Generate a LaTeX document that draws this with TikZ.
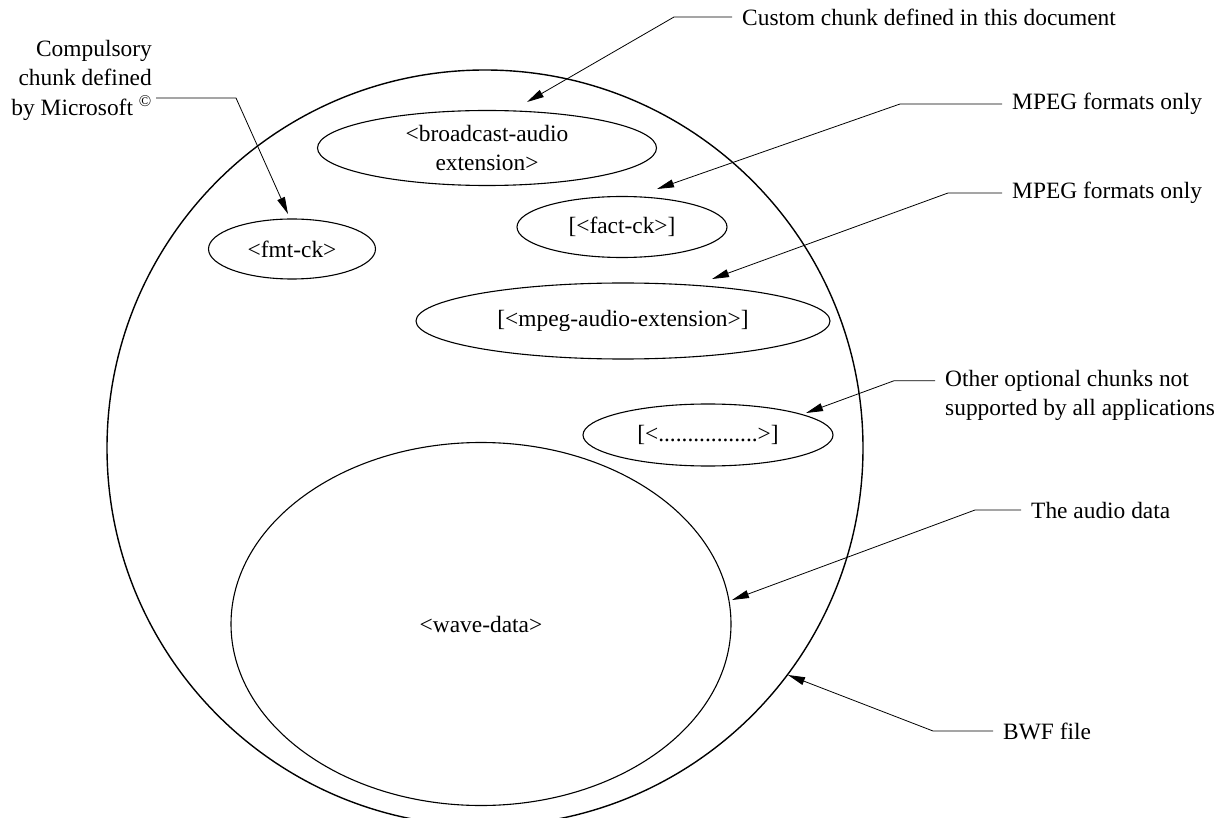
\documentclass[tikz,border=0pt]{standalone}
\usepackage{fontspec}
\setmainfont{Liberation Serif}
\usetikzlibrary{shapes.geometric,arrows.meta,calc}
\begin{document}
\begin{tikzpicture}[x=1pt,y=-1pt,
  every node/.style={font=\fontsize{23.4}{29.5}\selectfont},
  chunk/.style={draw, ellipse, line width=1.1pt, inner sep=0pt, align=center},
  lbl/.style={inner xsep=10pt, inner ysep=0pt, anchor=west, align=left},
  lead/.style={line width=0.8pt, -{Triangle[length=17pt,width=8pt]}}]
\useasboundingbox (0,0) rectangle (1229,818);
\clip (0,0) rectangle (1229,818);
% file and chunks
\node[draw, circle, line width=1.4pt, minimum size=756pt, inner sep=0pt] (bwf) at (485,448) {};
\node[chunk, minimum width=339pt, minimum height=75pt] (bext) at (487,148) {<broadcast-audio\\extension>};
\node[chunk, minimum width=167pt, minimum height=60pt] (fmt) at (292,249) {<fmt-ck>};
\node[chunk, minimum width=210pt, minimum height=61pt] (fact) at (622,227) {[<fact-ck>]};
\node[chunk, minimum width=414pt, minimum height=76pt] (mpeg) at (623,321) {[<mpeg-audio-extension>]};
\node[chunk, minimum width=250pt, minimum height=62pt] (other) at (708,435) {[<.................>]};
\node[chunk, minimum width=500pt, minimum height=363pt] (wave) at (481,624) {<wave-data>};
% arrow targets
\coordinate (tFmt) at (288,214);
\coordinate (tBext) at (527,102);
\coordinate (tFact) at (657,189);
\coordinate (tMpeg) at (712,279);
\coordinate (tOther) at (806,413);
\coordinate (tWave) at (732,600);
\coordinate (tBwf) at (788,675);
% labels
\node[lbl, anchor=east, align=right, inner xsep=4pt] (lMs) at (156,80) {Compulsory\\chunk defined\\by Microsoft \textsuperscript{©}};
\node[lbl] (lCustom) at (732,17) {Custom chunk defined in this document};
\node[lbl] (lMpeg1) at (1002,104) {MPEG formats only};
\node[lbl] (lMpeg2) at (1002,193) {MPEG formats only};
\node[lbl] (lOther) at (935,395.5) {Other optional chunks not\\supported by all applications};
\node[lbl] (lAudio) at (1021,510) {The audio data};
\node[lbl] (lBwf) at (993,731) {BWF file};
% leaders
\coordinate (bMs) at (236,98);
\draw[lead] (lMs.east |- bMs) -- (bMs) -- (tFmt);
\draw[lead] (lCustom.west) -- ++(-58,0) -- (tBext);
\draw[lead] (lMpeg1.west) -- ++(-102,0) -- (tFact);
\draw[lead] (lMpeg2.west) -- ++(-54,0) -- (tMpeg);
\draw[lead] ($(lOther.west)+(0,-14.75)$) -- ++(-41,0) -- (tOther);
\draw[lead] (lAudio.west) -- ++(-46,0) -- (tWave);
\draw[lead] (lBwf.west) -- ++(-60,0) -- (tBwf);
\end{tikzpicture}
\end{document}
